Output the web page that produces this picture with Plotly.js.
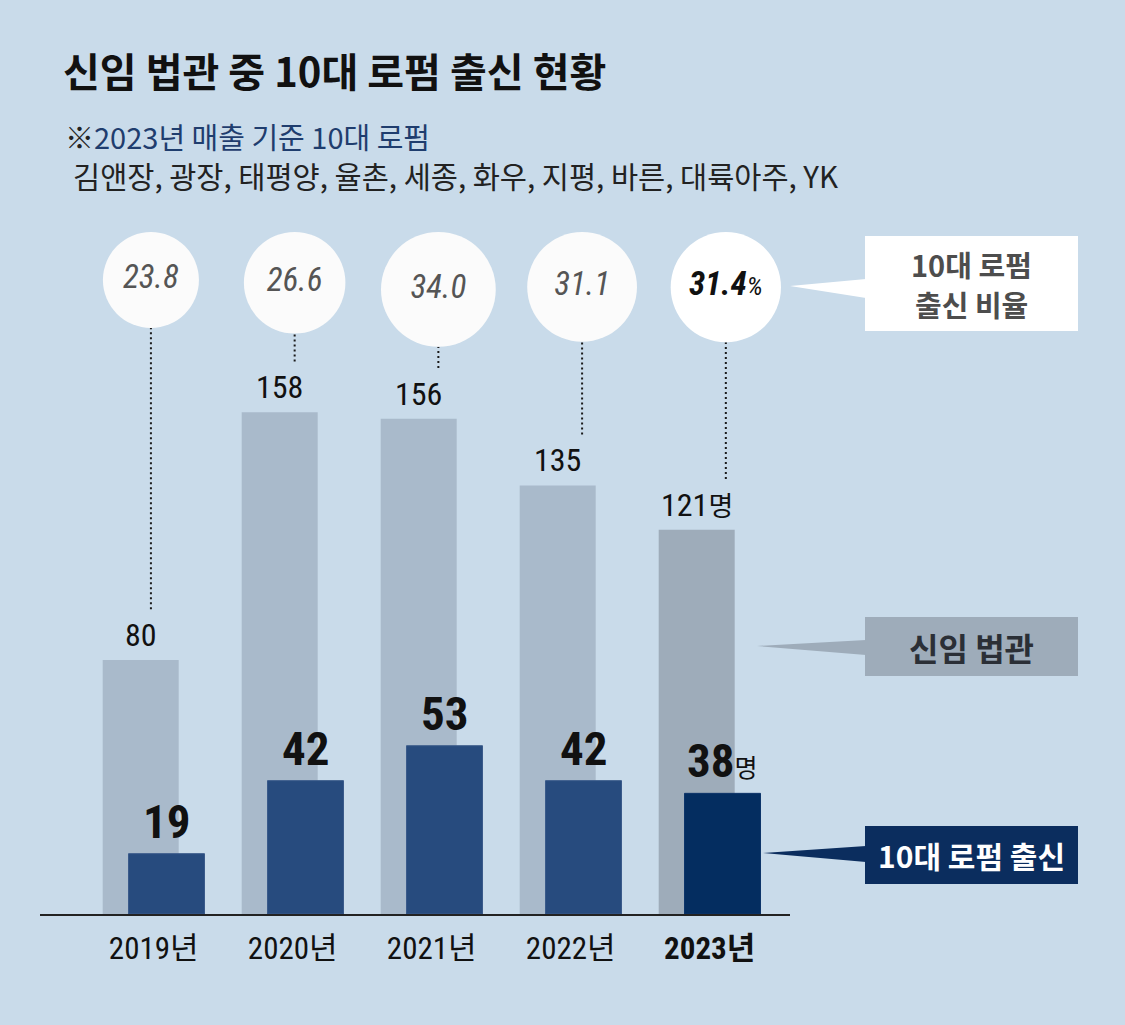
<!DOCTYPE html>
<html><head><meta charset="utf-8">
<script src="https://cdn.plot.ly/plotly-3.0.1.min.js"></script>
<style>html,body{margin:0;padding:0;background:#c9dbea}</style>
</head><body><div id="chart" style="width:1125px;height:1025px"></div>
<script>
// ---- data ----
const years = ['2019년','2020년','2021년','2022년','2023년'];
const newJudges = [80, 158, 156, 135, 121];      // 신임 법관
const top10Firm = [19, 42, 53, 42, 38];          // 10대 로펌 출신
const top10Ratio = [23.8, 26.6, 34.0, 31.1, 31.4]; // 10대 로펌 출신 비율(%)
const firmList = '김앤장, 광장, 태평양, 율촌, 세종, 화우, 지평, 바른, 대륙아주, YK';

// ---- geometry / style ----
const W = 1125, H = 1025, L = 40, R = 335, T = 0, B = 111;
const PW = W - L - R, PH = H - T - B;
const PXU = 3.175;                 // px per person
const YMAX = PH / PXU;
const UNIT = 139;                  // px per category
const X0 = -0.818, X1 = X0 + PW / UNIT;
const px = p => (p - L) / PW;       // pixel -> paper x
const py = p => (PH + T - p) / PH;  // pixel -> paper y
const NARROW = "'Liberation Sans Narrow','Roboto Condensed','DejaVu Sans Condensed','Noto Sans CJK KR',sans-serif";
const KR = "'Noto Sans CJK KR','Noto Sans',sans-serif";
const BG = '#c9dbea';
const n = years.length;
const idx = years.map((_, i) => i);
const last = n - 1;

const barW = 76 / UNIT;
const grayOff = -13 / UNIT - barW / 2;
const darkOff = 12.8 / UNIT - barW / 2;
const grayCol = idx.map(i => i === last ? '#9eacba' : '#a9bacb');
const darkCol = idx.map(i => i === last ? '#042d60' : '#274b7e');

// circles: area proportional to ratio
const diam = top10Ratio.map(r => 19.68 * Math.sqrt(r));
const cx = idx.map(i => i * 1.034 - 0.02);
const cy = diam.map(d => YMAX - (232 + d / 2) / PXU);
const circBottom = diam.map(d => YMAX - (232 + d) / PXU);

const traces = [];
traces.push({
  type: 'bar', x: idx, y: newJudges, width: idx.map(() => barW), offset: idx.map(() => grayOff),
  marker: { color: grayCol, line: { width: 0 } }, hoverinfo: 'skip', name: '신임 법관'
});
traces.push({
  type: 'bar', x: idx, y: top10Firm, width: idx.map(() => barW), offset: idx.map(() => darkOff),
  marker: { color: darkCol, line: { width: 1, color: idx.map(i => i === last ? '#0d356a' : '#3a5a8a') } },
  hoverinfo: 'skip', name: '10대 로펌 출신'
});
// dotted leader lines
const lx = [], ly = [];
idx.forEach(i => { lx.push(cx[i], cx[i], null); ly.push(newJudges[i] + 16, circBottom[i], null); });
traces.push({ type: 'scatter', mode: 'lines', x: lx, y: ly, line: { color: '#1a1a1a', width: 2, dash: '2px,3px' }, hoverinfo: 'skip', cliponaxis: false });
// ratio circles
traces.push({
  type: 'scatter', mode: 'markers+text', x: cx, y: cy, cliponaxis: false, hoverinfo: 'skip',
  marker: { size: diam, sizemode: 'diameter', opacity: 1, color: idx.map(i => i === last ? '#ffffff' : '#fbfbfb'), line: { width: 0 } },
  text: top10Ratio.map((v, i) => i === last ? '<b>' + v.toFixed(1) + '</b><span style="font-size:26px">%</span>' : v.toFixed(1)),
  textposition: 'middle center',
  textfont: { family: NARROW, size: 33, style: 'italic', color: idx.map(i => i === last ? '#111111' : '#555555') }
});

const ann = [];
// bar labels
idx.forEach(i => {
  ann.push({
    xref: 'x', yref: 'y', x: i + grayOff + barW / 2, y: newJudges[i], yanchor: 'bottom', xanchor: 'center', yshift: 4,
    showarrow: false, font: { family: NARROW, size: 32, color: '#111' },
    text: String(newJudges[i]) + (i === last ? '<span style="font-family:Noto Sans CJK KR;font-size:27px">명</span>' : '')
  });
  ann.push({
    xref: 'x', yref: 'y', x: i + darkOff + barW / 2, y: top10Firm[i], yanchor: 'bottom', xanchor: 'center', yshift: 3,
    showarrow: false, font: { family: NARROW, size: 47, color: '#111' },
    text: '<b>' + top10Firm[i] + '</b>' + (i === last ? '<span style="font-family:Noto Sans CJK KR;font-size:25px">명</span>' : '')
  });
});
// header texts
ann.push({ xref: 'paper', yref: 'paper', x: px(63), y: py(136), xanchor: 'left', yanchor: 'middle', showarrow: false,
  text: '<span style="color:#222">※</span>2023년 매출 기준 10대 로펌', font: { family: KR, size: 29, color: '#1f3d6e' } });
ann.push({ xref: 'paper', yref: 'paper', x: px(71), y: py(175), xanchor: 'left', yanchor: 'middle', showarrow: false,
  text: firmList, font: { family: KR, size: 29.5, color: '#222' } });
// callout texts
const cxBox = px(971.5);
ann.push({ xref: 'paper', yref: 'paper', x: cxBox, y: py(264), xanchor: 'center', yanchor: 'middle', showarrow: false,
  text: '<b>10대 로펌</b>', font: { family: KR, size: 29, color: '#4d4d4d' } });
ann.push({ xref: 'paper', yref: 'paper', x: cxBox, y: py(304), xanchor: 'center', yanchor: 'middle', showarrow: false,
  text: '<b>출신 비율</b>', font: { family: KR, size: 29, color: '#4d4d4d' } });
ann.push({ xref: 'paper', yref: 'paper', x: cxBox, y: py(647), xanchor: 'center', yanchor: 'middle', showarrow: false,
  text: '<b>신임 법관</b>', font: { family: KR, size: 32, color: '#2b2f36' } });
ann.push({ xref: 'paper', yref: 'paper', x: cxBox, y: py(855), xanchor: 'center', yanchor: 'middle', showarrow: false,
  text: '<b>10대 로펌 출신</b>', font: { family: KR, size: 30, color: '#ffffff' } });

const rect = (x0, y0, x1, y1, c) => ({ type: 'rect', xref: 'paper', yref: 'paper', x0: px(x0), x1: px(x1), y0: py(y1), y1: py(y0), fillcolor: c, line: { width: 0 }, layer: 'above' });
const tri = (tx, ty, bx, by0, by1, c) => ({ type: 'path', xref: 'paper', yref: 'paper',
  path: `M ${px(tx)},${py(ty)} L ${px(bx)},${py(by0)} L ${px(bx)},${py(by1)} Z`, fillcolor: c, line: { width: 0 }, layer: 'above' });
const shapes = [
  rect(865, 236, 1078, 331, '#ffffff'), tri(790, 286, 866, 279, 298, '#ffffff'),
  rect(865, 617, 1078, 676, '#9eacba'), tri(757, 646, 866, 640, 655, '#9eacba'),
  rect(865, 826, 1078, 884, '#0b2d5e'), tri(763, 853, 866, 846, 862, '#0b2d5e')
];

const layout = {
  width: W, height: H, margin: { l: L, r: R, t: T, b: B, pad: 0 },
  paper_bgcolor: BG, plot_bgcolor: BG, showlegend: false, barmode: 'overlay',
  title: { text: '<b>신임 법관 중 10대 로펌 출신 현황</b>', xref: 'container', yref: 'container', x: 63 / W, xanchor: 'left', y: 1 - 73 / H, yanchor: 'middle',
    font: { family: KR, size: 40, color: '#111' } },
  xaxis: { range: [X0, X1], tickvals: idx, ticktext: years.map((y, i) => i === last ? '<b>' + y + '</b>' : y), showgrid: false, zeroline: false,
    showline: true, linecolor: '#222', linewidth: 1.5, ticks: '', ticklabelstandoff: 6,
    tickfont: { family: NARROW, size: 31, color: '#111' }, fixedrange: true },
  yaxis: { range: [0, YMAX], visible: false, showgrid: false, zeroline: false, fixedrange: true },
  annotations: ann, shapes: shapes
};
Plotly.newPlot('chart', traces, layout, { displayModeBar: false, staticPlot: true });
</script></body></html>
